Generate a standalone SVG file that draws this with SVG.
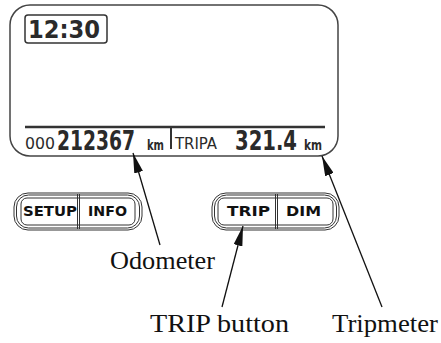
<svg xmlns="http://www.w3.org/2000/svg" width="441" height="343" viewBox="0 0 441 343">
<style>
.lcd{font-family:"DejaVu Sans Condensed","DejaVu Sans",sans-serif;font-weight:bold;fill:#2a2a2a}
.lcdn{font-family:"DejaVu Sans Condensed","DejaVu Sans",sans-serif;fill:#2a2a2a}
.btn{font-family:"DejaVu Sans","Liberation Sans",sans-serif;font-weight:bold;fill:#111;font-size:14px}
.lbl{font-family:"Liberation Serif","DejaVu Serif",serif;fill:#111;font-size:26px}
.thin{fill:none;stroke:#333;stroke-width:1}
.arrow{stroke:#111;stroke-width:1.3;fill:none;marker-end:url(#ah)}
</style>
<defs>
<marker id="ah" markerUnits="userSpaceOnUse" markerWidth="20" markerHeight="9" refX="20" refY="4.5" orient="auto">
<path d="M0,0 L20,4.5 L0,9 z" fill="#111"/>
</marker>
</defs>
<rect width="441" height="343" fill="#fff"/>
<g id="display">
<rect x="10" y="5" width="328" height="151" rx="20" fill="none" stroke="#444" stroke-width="1.5"/>
<rect x="25" y="15" width="82" height="28" rx="3" fill="none" stroke="#333" stroke-width="1.5"/>
<text class="lcd" transform="translate(28,38) scale(1,1.24)" font-size="20" textLength="72" lengthAdjust="spacingAndGlyphs">12:30</text>
<line x1="25" y1="127" x2="325" y2="127" stroke="#333" stroke-width="2.5"/>
<line x1="171" y1="128" x2="171" y2="149" stroke="#333" stroke-width="2"/>
<text class="lcdn" x="25" y="149" font-size="16" textLength="30" lengthAdjust="spacingAndGlyphs">000</text>
<text class="lcd" transform="translate(57,150) scale(1,1.24)" font-size="21" textLength="78" lengthAdjust="spacingAndGlyphs">212367</text>
<text class="lcd" x="147" y="150" font-size="14" textLength="17" lengthAdjust="spacingAndGlyphs">km</text>
<text class="lcdn" x="175" y="149" font-size="15" textLength="42" lengthAdjust="spacingAndGlyphs">TRIPA</text>
<text class="lcd" transform="translate(235,150) scale(1,1.24)" font-size="21" textLength="62" lengthAdjust="spacingAndGlyphs">321.4</text>
<text class="lcd" x="304" y="150" font-size="14" textLength="18" lengthAdjust="spacingAndGlyphs">km</text>
</g>
<g id="btn-left">
<rect class="thin" x="14" y="193" width="128" height="37" rx="14"/>
<rect class="thin" x="16.5" y="195" width="123" height="33" rx="12"/>
<rect class="thin" x="21" y="198" width="114" height="27" rx="6"/>
<line class="thin" x1="77.5" y1="194" x2="77.5" y2="229"/>
<line class="thin" x1="79.5" y1="194" x2="79.5" y2="229"/>
<text class="btn" x="23" y="216" textLength="54" lengthAdjust="spacingAndGlyphs">SETUP</text>
<text class="btn" x="88" y="216" textLength="39" lengthAdjust="spacingAndGlyphs">INFO</text>
</g>
<g id="btn-right">
<rect class="thin" x="212" y="193" width="127" height="37" rx="14"/>
<rect class="thin" x="214.5" y="195" width="122" height="33" rx="12"/>
<rect class="thin" x="218" y="198" width="115" height="27" rx="6"/>
<line class="thin" x1="275.5" y1="194" x2="275.5" y2="229"/>
<line class="thin" x1="277.5" y1="194" x2="277.5" y2="229"/>
<text class="btn" x="227" y="216" textLength="43" lengthAdjust="spacingAndGlyphs">TRIP</text>
<text class="btn" x="286" y="216" textLength="35" lengthAdjust="spacingAndGlyphs">DIM</text>
</g>
<g id="label-odometer"><text class="lbl" x="110" y="269" textLength="105" lengthAdjust="spacingAndGlyphs">Odometer</text></g>
<g id="label-trip"><text class="lbl" x="150" y="332" textLength="139" lengthAdjust="spacingAndGlyphs">TRIP button</text></g>
<g id="label-tripmeter"><text class="lbl" x="332" y="332" textLength="106" lengthAdjust="spacingAndGlyphs">Tripmeter</text></g>
<g id="connectors">
<line class="arrow" x1="160" y1="245" x2="133" y2="153"/>
<line class="arrow" x1="222" y1="307" x2="243" y2="226"/>
<line class="arrow" x1="382" y1="307" x2="322" y2="156"/>
</g>
</svg>
